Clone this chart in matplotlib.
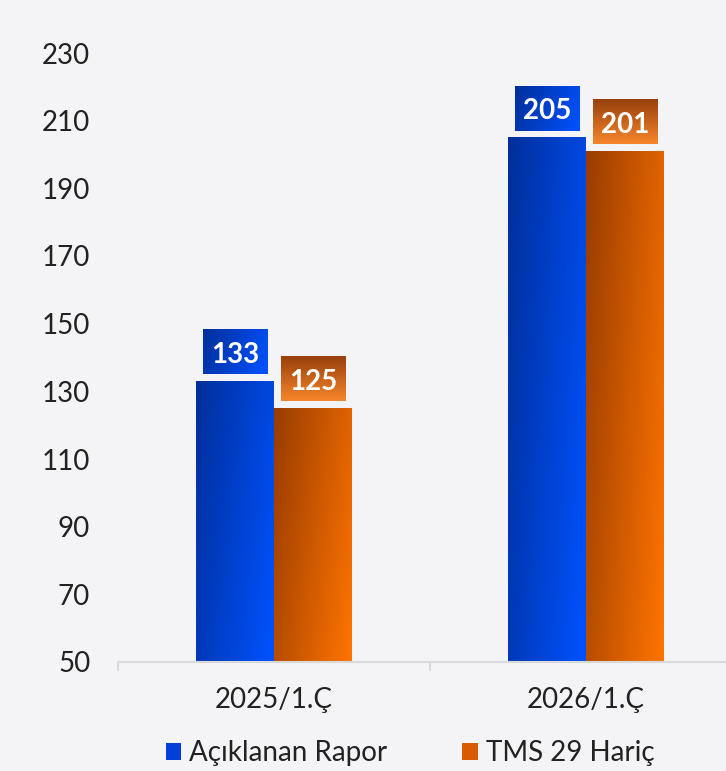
import numpy as np
import matplotlib.pyplot as plt
from matplotlib.colors import LinearSegmentedColormap
from matplotlib.patches import Rectangle

# veriler
categories = ['2025/1.Ç', '2026/1.Ç']
series_names = ['Açıklanan Rapor', 'TMS 29 Hariç']
reported = [133, 205]
excl_tms29 = [125, 201]
yticks = [50, 70, 90, 110, 130, 150, 170, 190, 210, 230]

bg = '#f4f4f6'
blue_cmap = LinearSegmentedColormap.from_list('b', ['#002f9a', '#0052ff'])
orange_cmap = LinearSegmentedColormap.from_list('o', ['#983c00', '#ff7400'])
box_orange = LinearSegmentedColormap.from_list('bo', ['#f6862c', '#98400c'])

plt.rcParams['font.family'] = ['Lato', 'DejaVu Sans']

fig = plt.figure(figsize=(7.26, 7.71), dpi=100, facecolor=bg)
ax = fig.add_axes([118/726, 109/771, 624/726, 609/771])
ax.set_facecolor(bg)

x = np.arange(len(categories))
w = 0.25
bars1 = ax.bar(x - w/2, reported, w, color='none', linewidth=0)
bars2 = ax.bar(x + w/2, excl_tms29, w, color='none', linewidth=0)
ax.set_xlim(-0.5, 1.5)
ax.set_ylim(yticks[0], yticks[-1])


def grad_fill(rect, cmap):
    x0 = rect.get_x()
    x1 = x0 + rect.get_width()
    U, V = np.meshgrid(np.linspace(0, 1, 100), np.linspace(0, 1, 100))
    t = 0.7*U + 0.3*(1 - V)
    ax.imshow(t, extent=[x0, x1, yticks[0], rect.get_height()], origin='lower',
              aspect='auto', cmap=cmap, vmin=0, vmax=1, zorder=2)


for r in bars1:
    grad_fill(r, blue_cmap)
for r in bars2:
    grad_fill(r, orange_cmap)

# etiketler: kutu çubuğun 7px üstünde, 45px yüksek
px = 0.72
labels = []
for bars, vals, kind in [(bars1, reported, 'b'), (bars2, excl_tms29, 'o')]:
    for r, v in zip(bars, vals):
        t = ax.annotate(str(v), (r.get_x() + r.get_width()/2, v), xytext=(0, 18.5*px),
                        textcoords='offset points', ha='center', va='baseline',
                        color='white', fontsize=20, fontweight='bold', zorder=5)
        labels.append((t, kind, r, v))

fig.canvas.draw()
rend = fig.canvas.get_renderer()
inv = ax.transData.inverted()
for t, kind, r, v in labels:
    bb = t.get_window_extent(rend)
    _, y_bar = ax.transData.transform((0, v))
    X0, X1 = bb.x0 - 8, bb.x1 + 8
    Y0, Y1 = y_bar + 7, y_bar + 52
    (dx0, dy0), (dx1, dy1) = inv.transform([[X0, Y0], [X1, Y1]])
    U, V = np.meshgrid(np.linspace(0, 1, 50), np.linspace(0, 1, 50))
    if kind == 'b':
        g, cm = 0.8*U + 0.2*(1 - V), blue_cmap
    else:
        g, cm = V, box_orange
    ax.imshow(g, extent=[dx0, dx1, dy0, dy1], origin='lower', aspect='auto',
              cmap=cm, vmin=0, vmax=1, zorder=4)

ax.set_xlim(-0.5, 1.5)
ax.set_ylim(yticks[0], yticks[-1])

for s in ['left', 'top', 'right']:
    ax.spines[s].set_visible(False)
ax.spines['bottom'].set_color('#d9d9d9')
ax.spines['bottom'].set_linewidth(1.5)

ax.set_yticks(yticks)
ax.set_xticks(x)
ax.set_xticklabels(categories)
ax.set_xticks([-0.5, 0.5, 1.5], minor=True)
ax.tick_params(axis='y', length=0, pad=20, labelsize=20, labelcolor='#222222')
ax.tick_params(axis='x', which='major', length=0, pad=18, labelsize=20, labelcolor='#222222')
ax.tick_params(axis='x', which='minor', length=6.5, width=1.5, color='#d9d9d9')

handles = [Rectangle((0, 0), 1, 1, fc='#0040d8'), Rectangle((0, 0), 1, 1, fc='#d85a00')]
fig.legend(handles, series_names, loc='center', bbox_to_anchor=(410/726, 1 - 753/771),
           ncol=2, frameon=False, fontsize=20, handlelength=0.55, handleheight=0.55,
           handletextpad=0.3, columnspacing=2.7, labelcolor='#222222')

fig.savefig('out.png', dpi=100, facecolor=bg)
